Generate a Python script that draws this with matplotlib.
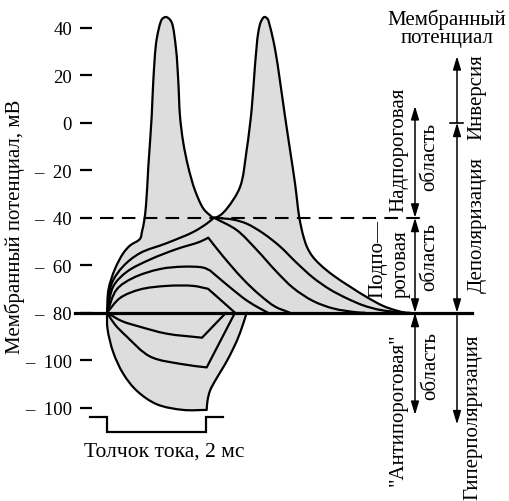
import numpy as np
import matplotlib
matplotlib.use('Agg')
import matplotlib.pyplot as plt
from matplotlib.path import Path
from matplotlib.patches import PathPatch

plt.rcParams['font.family'] = ['Liberation Serif', 'DejaVu Serif']

# ---------------- data: time (ms), membrane potential (mV) ----------------
ytick_values = [40, 20, 0, -20, -40, -60, -80, -100, -120]
ytick_labels = ['40', '20', '0', '–  20', '–  40', '–  60', '–  80', '–  100', '–  100']

rest_mV = -80
threshold_mV = -40
zero_mV = 0
supra_top_mV = 7
inversion_top_mV = 28
anti_bottom_mV = -123
hyper_bottom_mV = -127

# upper envelope: two action potentials
ap_t = [0, 0.03, 0.16, 0.33, 0.465, 0.667, 0.707, 0.747, 0.788, 0.834, 0.903, 0.935,
        1.004, 1.105, 1.147, 1.192, 1.242, 1.307, 1.394, 1.44, 1.475, 1.541, 1.642,
        1.778, 1.945, 2.06, 2.162, 2.283, 2.424, 2.687, 2.822, 2.923, 2.99, 3.057,
        3.111, 3.178, 3.24, 3.293, 3.394, 3.495, 3.596, 3.697, 3.798, 3.885, 3.966,
        4.04, 4.141, 4.303, 4.566, 4.909, 5.246, 5.576, 5.818, 6.02]
ap_v = [-80, -70.2, -61.6, -54.9, -51.7, -48.9, -45.8, -41.9, -34.8, -18.7, 2.7, 17.5,
        35.2, 43.4, 44.2, 44.5, 44.0, 42.2, 31.1, 17.5, 2.7, -8.4, -18.7,
        -28.5, -36.1, -38.6, -40, -39.0, -36.1, -27.1, -11.4, 5.8, 24.2, 38.1,
        42.6, 44.5, 43.8, 40.5, 31.1, 17.5, 2.7, -11.4, -25.5, -39.9, -47.7,
        -52.3, -56.0, -59.7, -64.2, -69.0, -73.4, -77.1, -78.9, -80]

# threshold-reaching response and the two decays from threshold
d4_t = [0, 0.095, 0.329, 0.667, 1.206, 1.743, 2.014, 2.162]
d4_v = [-80, -67.7, -60.4, -54.9, -50.7, -46.0, -42.5, -40]
up_t = [2.162, 2.552, 2.822, 3.158, 3.495, 3.832, 4.168, 4.505, 4.842, 5.178, 5.515, 5.919, 6.121]
up_v = [-40, -40.8, -42.5, -46.6, -52.1, -59.0, -65.3, -70.2, -73.9, -76.9, -78.8, -79.8, -80]
lo_t = [2.162, 2.62, 3.024, 3.428, 3.764, 4.168, 4.572, 5.044, 5.212]
lo_v = [-40, -45.2, -53.5, -62.8, -69.6, -75.1, -78.2, -79.8, -80]

# subthreshold depolarizations (corner at the end of the pulse)
d3_t = [0, 0.127, 0.398, 0.869, 1.406, 1.879, 2.046, 2.222, 2.485, 2.788, 3.091, 3.394, 3.697]
d3_v = [-80, -68.9, -62.8, -57.6, -53.2, -50.1, -48.4, -53.1, -59.7, -66.7, -72.6, -77.4, -80]
d2_t = [0, 0.196, 0.531, 1.071, 1.541, 1.945, 2.081, 2.485, 2.828, 3.091, 3.253]
d2_v = [-80, -70.2, -65.3, -61.6, -60.6, -61.0, -62.2, -69.3, -74.9, -78.2, -80]
d1_t = [0, 0.263, 0.667, 1.206, 1.743, 2.04, 2.323, 2.586]
d1_v = [-80, -73.8, -70.2, -68.7, -68.7, -69.9, -75.1, -80]

# hyperpolarizations
h1_t = [0, 0.30, 0.667, 1.206, 1.92, 2.404]
h1_v = [-80, -83.5, -85.9, -88.8, -90.5, -80]
h2_t = [0, 0.162, 0.398, 0.869, 1.541, 2.014, 2.586]
h2_v = [-80, -85.0, -90.0, -98.4, -101.7, -103.0, -80]
h3_t = [0, 0.01, 0.127, 0.329, 0.600, 1.004, 1.541, 2.014, 2.030, 2.081, 2.216, 2.384, 2.552, 2.687, 2.822]
h3_v = [-80, -86.7, -96.7, -105.7, -112.8, -118.5, -120.9, -120.9, -117.1, -112.8, -107.5, -101.7, -95.0, -88.5, -80]

# stimulus current pulse (2 ms)
pulse_t = [-0.35, 0, 0, 2, 2, 2.35]
pulse_level = [0, 0, 1, 1, 0, 0]

# ---------------- layout helpers (pixel -> data) ----------------
X0, PXMS = 107.0, 49.5
Y0, PXMV = 218.73, 2.3757


def tx(px):
    return (px - X0) / PXMS


def vy(py):
    return -40 - (py - Y0) / PXMV


def bezier_vertices(t, v, corners=()):
    """Centripetal Catmull-Rom through the read points, as cubic Bezier control points."""
    P = np.column_stack([np.asarray(t, float) * PXMS, np.asarray(v, float) * PXMV])
    n = len(P)
    verts = [P[0]]
    for i in range(n - 1):
        p1, p2 = P[i], P[i + 1]
        p0 = P[i - 1] if (i > 0 and i not in corners) else 2 * p1 - p2
        p3 = P[i + 2] if (i + 2 < n and (i + 1) not in corners) else 2 * p2 - p1
        d1 = max(np.linalg.norm(p1 - p0) ** 0.5, 1e-6)
        d2 = max(np.linalg.norm(p2 - p1) ** 0.5, 1e-6)
        d3 = max(np.linalg.norm(p3 - p2) ** 0.5, 1e-6)
        b1 = (d1 ** 2 * p2 - d2 ** 2 * p0 + (2 * d1 ** 2 + 3 * d1 * d2 + d2 ** 2) * p1) / (3 * d1 * (d1 + d2))
        b2 = (d3 ** 2 * p1 - d2 ** 2 * p3 + (2 * d3 ** 2 + 3 * d3 * d2 + d2 ** 2) * p2) / (3 * d3 * (d3 + d2))
        verts += [b1, b2, p2]
    V = np.array(verts)
    V[:, 0] /= PXMS
    V[:, 1] /= PXMV
    return V


def curve_codes(V):
    return [Path.MOVETO] + [Path.CURVE4] * (len(V) - 1)


fig = plt.figure(figsize=(5.09, 5.02), dpi=100)
ax = fig.add_axes([0, 0, 1, 1])
ax.set_xlim(tx(0), tx(509))
ax.set_ylim(vy(502), vy(0))
ax.patch.set_facecolor('white')

LW = 1.6
GRAY = '#dddddd'

curves = [
    (ap_t, ap_v, ()),
    (d4_t, d4_v, ()),
    (up_t, up_v, ()),
    (lo_t, lo_v, ()),
    (d3_t, d3_v, (6,)),
    (d2_t, d2_v, (6,)),
    (d1_t, d1_v, (5,)),
    (h1_t, h1_v, (4,)),
    (h2_t, h2_v, (5,)),
    (h3_t, h3_v, (7,)),
]

# shaded area: envelope of the responses
V_ap = bezier_vertices(ap_t, ap_v)
V_h3 = bezier_vertices(h3_t, h3_v, (7,))[::-1]
fill_verts = np.vstack([V_ap, V_h3, V_ap[:1]])
fill_codes = curve_codes(V_ap) + [Path.LINETO] + [Path.CURVE4] * (len(V_h3) - 1) + [Path.CLOSEPOLY]
ax.add_patch(PathPatch(Path(fill_verts, fill_codes), facecolor=GRAY, edgecolor='none', zorder=1))

for t, v, corners in curves:
    V = bezier_vertices(t, v, corners)
    ax.add_patch(PathPatch(Path(V, curve_codes(V)), facecolor='none', edgecolor='black',
                           lw=LW, joinstyle='round', capstyle='round', zorder=3))

# resting line and threshold line
ax.plot([tx(75), tx(472)], [rest_mV, rest_mV], color='black', lw=2.3, zorder=4)
ax.plot([tx(100), tx(423)], [threshold_mV, threshold_mV], color='black', lw=1.5,
        dashes=(6.5, 4), zorder=2)

# stimulus pulse
p_hi, p_lo = vy(417.7), vy(433)
ax.plot(pulse_t, [p_hi - l * (p_hi - p_lo) for l in pulse_level], color='black', lw=1.6,
        solid_joinstyle='miter')

# axis ticks
for s in ax.spines.values():
    s.set_visible(False)
ax.spines['left'].set_position(('data', tx(92)))
ax.set_xticks([])
ax.set_yticks(ytick_values, ytick_labels)
ax.tick_params(axis='y', direction='out', length=8.6, width=1.6, pad=5.8, labelsize=13.5)

FS = 15
ax.text(tx(15), vy(227), 'Мембранный потенциал, мВ', rotation=90, ha='center', va='center', fontsize=FS)
ax.text(tx(164), vy(457), 'Толчок тока, 2 мс', ha='center', va='baseline', fontsize=15.5)
ax.text(tx(447), vy(25), 'Мембранный', ha='center', va='baseline', fontsize=FS)
ax.text(tx(447), vy(43), 'потенциал', ha='center', va='baseline', fontsize=FS)

rot = dict(rotation=90, ha='center', va='center', fontsize=FS)
ax.text(tx(398.5), vy(150), 'Надпороговая', **rot)
ax.text(tx(429.5), vy(157), 'область', **rot)
ax.text(tx(378), vy(298), 'Подпо—', rotation=90, ha='center', va='bottom', fontsize=FS)
ax.text(tx(401), vy(298), 'роговая', rotation=90, ha='center', va='bottom', fontsize=FS)
ax.text(tx(430), vy(257), 'область', **rot)
ax.text(tx(398.5), vy(410), '"Антипороговая"', **rot)
ax.text(tx(431), vy(366), 'область', **rot)
ax.text(tx(477), vy(97), 'Инверсия', **rot)
ax.text(tx(477), vy(225), 'Деполяризация', **rot)
ax.text(tx(473), vy(417), 'Гиперполяризация', **rot)

# range arrows
col1, col2 = tx(415), tx(457)
dbl = dict(arrowstyle='<|-|>,head_length=0.8,head_width=0.24', color='black', lw=1.1,
           shrinkA=0, shrinkB=0, mutation_scale=10)
sgl = dict(arrowstyle='-|>,head_length=0.8,head_width=0.24', color='black', lw=1.1,
           shrinkA=0, shrinkB=0, mutation_scale=10)
ax.annotate('', xy=(col1, supra_top_mV), xytext=(col1, threshold_mV), arrowprops=dbl)
ax.annotate('', xy=(col1, threshold_mV), xytext=(col1, rest_mV), arrowprops=dbl)
ax.annotate('', xy=(col1, anti_bottom_mV), xytext=(col1, rest_mV), arrowprops=dbl)
ax.annotate('', xy=(col2, zero_mV), xytext=(col2, rest_mV), arrowprops=dbl)
ax.annotate('', xy=(col2, inversion_top_mV), xytext=(col2, zero_mV), arrowprops=sgl)
ax.annotate('', xy=(col2, hyper_bottom_mV), xytext=(col2, rest_mV), arrowprops=sgl)
ax.plot([tx(450), tx(463)], [zero_mV, zero_mV], color='black', lw=1.2)

fig.savefig('out.png', dpi=100)
